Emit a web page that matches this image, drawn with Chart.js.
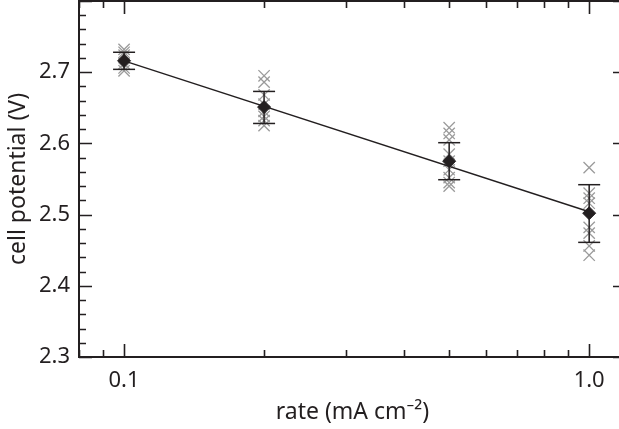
<!DOCTYPE html>
<html>
<head>
<meta charset="utf-8">
<script src="https://cdn.jsdelivr.net/npm/chart.js@4.4.1/dist/chart.umd.min.js"></script>
<style>
    html, body { margin: 0; padding: 0; overflow: hidden; background: #fff; }
    #wrap { width: 640px; height: 429px; }
</style>
</head>
<body>
<div id="wrap"><canvas id="cellChart" width="640" height="429"></canvas></div>
<script>
// rates (mA cm^-2) and the measured cell potentials (V)
const rates = [0.1, 0.2, 0.5, 1.0]
const runs = [
    [2.732, 2.728, 2.724, 2.712, 2.706, 2.702],
    [2.695, 2.686, 2.668, 2.655, 2.645, 2.638, 2.632, 2.625],
    [2.622, 2.614, 2.605, 2.585, 2.575, 2.563, 2.552, 2.545, 2.540],
    [2.566, 2.530, 2.523, 2.516, 2.482, 2.474, 2.456, 2.443]
]
const meanV = [2.716, 2.651, 2.575, 2.502]
const errLow = [2.704, 2.628, 2.549, 2.461]
const errHigh = [2.728, 2.673, 2.601, 2.542]
// fitted line end points
const fitRates = [0.1, 1.0]
const fitV = [2.716, 2.504]
// tick labels
const xTickValues = [0.1, 1.0]
const xTickText = ['0.1', '1.0']
const yTickValues = [2.3, 2.4, 2.5, 2.6, 2.7]

const ink = '#231f20'
const fontFamily = '"Noto Sans", "DejaVu Sans", sans-serif'

// Gray crosses: every single run
let runPoints = []
rates.forEach((r, i) => {
    runs[i].forEach(v => runPoints.push({x: r, y: v}))
})

// Error bars: one segment per rate, separated by gaps
let errPoints = []
rates.forEach((r, i) => {
    errPoints.push({x: r, y: errLow[i]})
    errPoints.push({x: r, y: errHigh[i]})
    errPoints.push({x: r, y: NaN})
})

// Inward ticks on all four sides + frame
const frameTicks = {
    id: 'frameTicks',
    afterDraw(chart) {
        let ctx = chart.ctx
        let area = chart.chartArea
        let xs = chart.scales.x
        let ys = chart.scales.y
        let major = 13
        let minor = 7

        ctx.save()
        ctx.strokeStyle = ink
        ctx.lineWidth = 1.6

        // x ticks
        let xMinor = [0.08, 0.09]
        for (let k = 2; k <= 9; k++) xMinor.push(k / 10)
        let drawX = (v, len) => {
            let px = Math.round(xs.getPixelForValue(v)) + 0.5
            ctx.beginPath()
            ctx.moveTo(px, area.bottom)
            ctx.lineTo(px, area.bottom - len)
            ctx.moveTo(px, area.top)
            ctx.lineTo(px, area.top + len)
            ctx.stroke()
        }
        xMinor.forEach(v => drawX(v, minor))
        xTickValues.forEach(v => drawX(v, major))

        // y ticks
        let drawY = (v, len) => {
            let py = Math.round(ys.getPixelForValue(v)) + 0.5
            ctx.beginPath()
            ctx.moveTo(area.left, py)
            ctx.lineTo(area.left + len, py)
            ctx.moveTo(area.right, py)
            ctx.lineTo(area.right - len, py)
            ctx.stroke()
        }
        for (let k = 0; k <= 25; k++) {
            let v = 2.3 + k * 0.02
            drawY(v, k % 5 === 0 ? major : minor)
        }

        ctx.lineWidth = 2
        ctx.strokeRect(area.left, area.top, area.right - area.left, area.bottom - area.top)
        ctx.restore()
    }
}

let chart = new Chart(document.getElementById('cellChart'), {
    type: 'scatter',
    data: {
        datasets: [
            {
                label: 'mean',
                data: rates.map((r, i) => ({x: r, y: meanV[i]})),
                pointStyle: 'rectRot',
                pointRadius: 6.5,
                backgroundColor: ink,
                borderColor: ink,
                borderWidth: 1,
                order: 0
            },
            {
                label: 'error',
                data: errPoints,
                showLine: true,
                spanGaps: false,
                borderColor: ink,
                borderWidth: 1.5,
                pointStyle: 'line',
                pointRadius: 11,
                pointBorderWidth: 1.5,
                pointBorderColor: ink,
                order: 1
            },
            {
                label: 'fit',
                data: fitRates.map((r, i) => ({x: r, y: fitV[i]})),
                showLine: true,
                borderColor: ink,
                borderWidth: 1.4,
                pointRadius: 0,
                order: 2
            },
            {
                label: 'runs',
                data: runPoints,
                pointStyle: 'crossRot',
                pointRadius: 8,
                pointBorderWidth: 1.3,
                borderColor: '#9b9b9b',
                backgroundColor: '#9b9b9b',
                order: 3
            }
        ]
    },
    options: {
        responsive: false,
        animation: false,
        events: [],
        layout: {
            autoPadding: false,
            padding: {top: 1, right: 14, bottom: 0, left: 0}
        },
        plugins: {
            legend: {display: false},
            tooltip: {enabled: false}
        },
        scales: {
            x: {
                type: 'logarithmic',
                min: 0.08,
                max: 1.2,
                border: {display: false},
                grid: {display: false, drawTicks: false},
                afterBuildTicks: function(scale) {
                    scale.ticks = xTickValues.map(v => ({value: v}))
                },
                afterFit: function(scale) {
                    scale.height = 72
                    scale.paddingLeft = 0
                    scale.paddingRight = 0
                },
                ticks: {
                    color: ink,
                    padding: 11,
                    font: {family: fontFamily, size: 22},
                    callback: function(value) {
                        let i = xTickValues.indexOf(value)
                        return i >= 0 ? xTickText[i] : null
                    }
                },
                title: {
                    display: true,
                    text: 'rate (mA cm⁻²)',
                    color: ink,
                    padding: {top: 0, bottom: 3},
                    font: {family: fontFamily, size: 23}
                }
            },
            y: {
                min: 2.3,
                max: 2.8,
                border: {display: false},
                grid: {display: false, drawTicks: false},
                afterBuildTicks: function(scale) {
                    scale.ticks = yTickValues.map(v => ({value: v}))
                },
                afterFit: function(scale) {
                    scale.width = 79
                    scale.paddingTop = 0
                    scale.paddingBottom = 0
                },
                ticks: {
                    color: ink,
                    padding: 9,
                    font: {family: fontFamily, size: 22},
                    callback: function(value) {
                        return value.toFixed(1)
                    }
                },
                title: {
                    display: true,
                    text: 'cell potential (V)',
                    color: ink,
                    padding: {top: 5, bottom: 0},
                    font: {family: fontFamily, size: 23}
                }
            }
        }
    },
    plugins: [frameTicks]
})
</script>
</body>
</html>
